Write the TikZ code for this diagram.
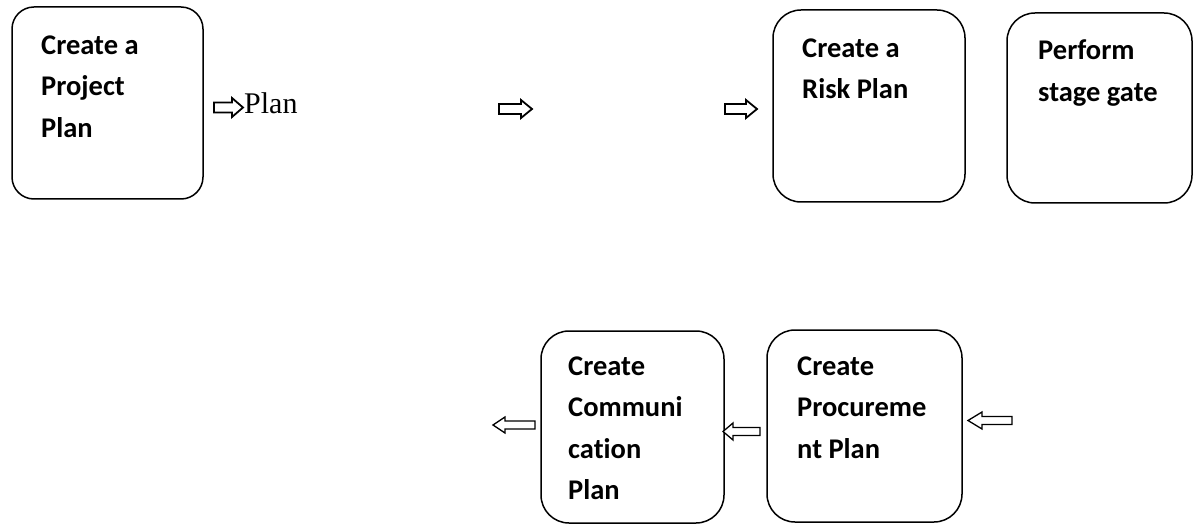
\documentclass[tikz,border=0pt]{standalone}
\usepackage{fontspec}
\setmainfont[Ligatures=NoCommon]{Carlito}
\newfontfamily\planserif{Liberation Serif}
\begin{document}
\begin{tikzpicture}[x=1pt,y=-1pt,
  stagebox/.style={draw=black,line width=1.5pt},
  stagetext/.style={anchor=north west,inner sep=0pt,align=left,
    font=\fontsize{28.5}{41.5}\selectfont\bfseries},
  blockarrow/.style={draw=black,line width=1.3pt,line join=miter,fill=white}]
\useasboundingbox (0,0) rectangle (1194,529);

% process boxes
\draw[stagebox,rounded corners=22pt] (12,7) rectangle (203,199);
\node[stagetext] (tproject) at (41,35.6) {Create a\\Project\\Plan};

\draw[stagebox,rounded corners=28pt] (773,10) rectangle (965,202);
\node[stagetext] (trisk) at (802,38.6) {Create a\\Risk Plan};

\draw[stagebox,rounded corners=28pt] (1007,13) rectangle (1192,203);
\node[stagetext] (tgate) at (1038,39.6) {Perform\\stage gate};

\draw[stagebox,rounded corners=28pt] (541,331) rectangle (724,523);
\node[stagetext] (tcomm) at (568,356.6) {Create\\Communi\\cation\\Plan};

\draw[stagebox,rounded corners=28pt] (767,330) rectangle (962,522);
\node[stagetext] (tproc) at (797,356.6) {Create\\Procureme\\nt Plan};

% block arrows: tail x, tip x, head base x, centre y, shaft half, head half
\newcommand\flowarrow[7][]{%
  \draw[blockarrow,#1] (#2,#5-#6) -- (#4,#5-#6) -- (#4,#5-#7) -- (#3,#5)
    -- (#4,#5+#7) -- (#4,#5+#6) -- (#2,#5+#6) -- cycle;}
\flowarrow[line width=1.8pt]{214}{243}{232}{107.5}{5}{9.5}
\flowarrow[line width=1.8pt]{499}{532}{521}{109}{5}{9}
\flowarrow[line width=1.8pt]{725}{757}{746}{109}{5}{9}
\flowarrow{535}{493}{505}{425}{4}{8}
\flowarrow{760}{723}{733}{431.5}{4}{8.5}
\flowarrow{1012}{968}{982}{420.5}{4}{8.5}

\node[anchor=base west,inner sep=0pt,font=\planserif\fontsize{30}{32}\selectfont]
  (tplan) at (244,114) {Plan};
\end{tikzpicture}
\end{document}
